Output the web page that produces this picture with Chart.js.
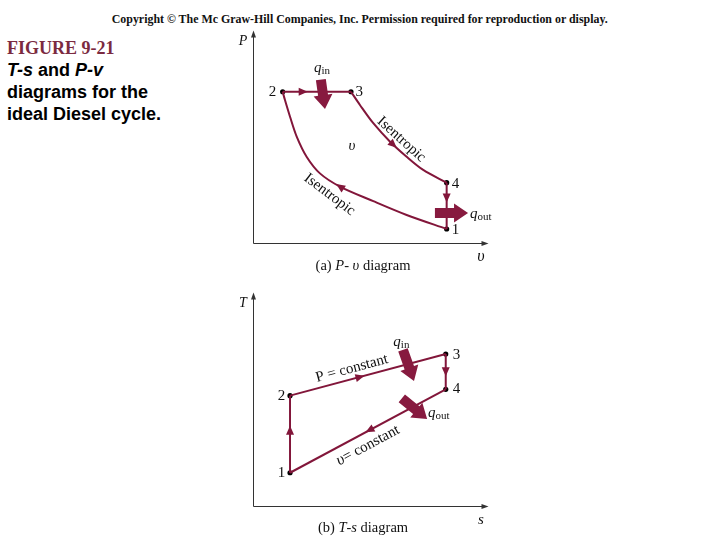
<!DOCTYPE html>
<html>
<head>
<meta charset="utf-8">
<script src="https://cdn.jsdelivr.net/npm/chart.js@4.4.1/dist/chart.umd.min.js"></script>
<style>
  body { margin: 0; width: 720px; height: 540px; background: #fff; position: relative; overflow: hidden; }
  #copy { position: absolute; top: 9px; left: 0; width: 720px; text-align: center; }
  #copy span { display: inline-block; font: bold 13px "Liberation Serif", serif; color: #111; white-space: nowrap; transform-origin: center; }
  #caption { position: absolute; left: 7px; top: 37px; font: bold 18px/22px "Liberation Sans", Arial, sans-serif; color: #000; }
  #caption .fig { font-family: "Liberation Serif", serif; color: #7b2a40; }
  canvas { position: absolute; }
  #pv { left: 230px; top: 28px; }
  #ts { left: 230px; top: 290px; }
</style>
</head>
<body>
<div id="copy"><span id="copyText">Copyright © The Mc Graw-Hill Companies, Inc. Permission required for reproduction or display.</span></div>
<div id="caption">
  <div class="fig">FIGURE 9-21</div>
  <div><i>T-s</i> and <i>P-v</i></div>
  <div>diagrams for the</div>
  <div>ideal Diesel cycle.</div>
</div>
<canvas id="pv" width="270" height="262"></canvas>
<canvas id="ts" width="270" height="250"></canvas>
<script>
// squeeze the copyright line to the width it has in the picture
const copyText = document.getElementById("copyText");
copyText.style.transform = "scaleX(" + (496 / copyText.getBoundingClientRect().width) + ")";

// P-v diagram, arbitrary units (states 1..4)
const pvV = [8.42, 1.29, 4.26, 8.42];
const pvP = [0.69, 7.45, 7.45, 2.97];
// isentropic compression 1 -> 2
const compV = [8.42, 6.68, 5.23, 3.78, 2.91, 2.33, 1.90, 1.61, 1.39, 1.29];
const compP = [0.69, 1.38, 2.06, 2.78, 3.43, 4.25, 5.24, 6.22, 7.04, 7.45];
// isentropic expansion 3 -> 4
const expV = [4.26, 4.65, 5.23, 5.96, 6.68, 7.40, 8.42];
const expP = [7.45, 6.80, 5.90, 4.99, 4.25, 3.60, 2.97];

// T-s diagram (states 1..4)
const tsS = [1.61, 1.61, 8.38, 8.38];
const tsT = [1.63, 5.41, 7.45, 5.72];

const LINE = "#82163a";
const HEAT = "#871a3f";
const SERIF = '"Liberation Serif", "Times New Roman", serif';
const f = (size, style) => (style || "") + " " + size + "px " + SERIF;

const pts = (xs, ys) => xs.map((x, i) => ({ x: x, y: ys[i] }));
const pick = (xs, ys, idx) => idx.map(i => ({ x: xs[i], y: ys[i] }));

function leg(data, arrowAt, tension) {
  return {
    data: data,
    showLine: true,
    borderColor: LINE,
    borderWidth: 2,
    pointRadius: 0,
    tension: tension || 0,
    arrowAt: arrowAt
  };
}
function states(data) {
  return {
    data: data,
    showLine: false,
    pointRadius: 2.6,
    pointBackgroundColor: "#000",
    pointBorderWidth: 0
  };
}

// text helper, mixed fonts on one line
function drawRich(ctx, parts, x, y, align, rot) {
  ctx.save();
  ctx.translate(x, y);
  if (rot) ctx.rotate(rot * Math.PI / 180);
  let w = 0;
  parts.forEach(p => { ctx.font = p[1]; w += ctx.measureText(p[0]).width; });
  let cx = align === "left" ? 0 : -w / 2;
  ctx.textAlign = "left";
  ctx.textBaseline = "middle";
  ctx.fillStyle = "#111";
  parts.forEach(p => {
    ctx.font = p[1];
    ctx.fillText(p[0], cx, p[2] || 0);
    cx += ctx.measureText(p[0]).width;
  });
  ctx.restore();
}

function triangle(ctx, x, y, ang, len, half) {
  ctx.save();
  ctx.translate(x, y);
  ctx.rotate(ang);
  ctx.beginPath();
  ctx.moveTo(len / 2, 0);
  ctx.lineTo(-len / 2, -half);
  ctx.lineTo(-len / 2, half);
  ctx.closePath();
  ctx.fill();
  ctx.restore();
}

function heatArrow(ctx, x1, y1, x2, y2) {
  const ang = Math.atan2(y2 - y1, x2 - x1);
  const len = Math.hypot(x2 - x1, y2 - y1);
  const head = 14, hw = 9.5, sw = 5;
  ctx.save();
  ctx.translate(x1, y1);
  ctx.rotate(ang);
  ctx.fillStyle = HEAT;
  ctx.beginPath();
  ctx.moveTo(0, -sw);
  ctx.lineTo(len - head, -sw);
  ctx.lineTo(len - head, -hw);
  ctx.lineTo(len, 0);
  ctx.lineTo(len - head, hw);
  ctx.lineTo(len - head, sw);
  ctx.lineTo(0, sw);
  ctx.closePath();
  ctx.fill();
  ctx.restore();
}

const diagramPlugin = {
  id: "diagram",
  afterDatasetsDraw(chart, args, opts) {
    const ctx = chart.ctx;
    const a = chart.chartArea;
    const xs = chart.scales.x, ys = chart.scales.y;

    // axes with arrow heads
    ctx.save();
    ctx.strokeStyle = "#333";
    ctx.fillStyle = "#333";
    ctx.lineWidth = 1;
    ctx.beginPath();
    ctx.moveTo(a.left + 0.5, a.bottom + 0.5);
    ctx.lineTo(a.left + 0.5, a.top - 4);
    ctx.moveTo(a.left + 0.5, a.bottom + 0.5);
    ctx.lineTo(a.right, a.bottom + 0.5);
    ctx.stroke();
    triangle(ctx, a.left + 0.5, a.top - 6, -Math.PI / 2, 7, 2.5);
    triangle(ctx, a.right + 2, a.bottom + 0.5, 0, 7, 2.5);
    ctx.restore();

    // direction arrows on the cycle legs
    ctx.save();
    ctx.fillStyle = LINE;
    chart.data.datasets.forEach((ds, i) => {
      if (!ds.arrowAt) return;
      const el = chart.getDatasetMeta(i).data;
      const p0 = el[ds.arrowAt.seg], p1 = el[ds.arrowAt.seg + 1];
      const t = ds.arrowAt.t;
      const x = p0.x + (p1.x - p0.x) * t, y = p0.y + (p1.y - p0.y) * t;
      triangle(ctx, x, y, Math.atan2(p1.y - p0.y, p1.x - p0.x), 9, 4);
    });
    ctx.restore();

    // heat transfer arrows
    opts.heat.forEach(h => {
      heatArrow(ctx, xs.getPixelForValue(h.from[0]), ys.getPixelForValue(h.from[1]),
        xs.getPixelForValue(h.to[0]), ys.getPixelForValue(h.to[1]));
    });

    // labels placed in data units
    opts.labels.forEach(l => {
      drawRich(ctx, l.parts, xs.getPixelForValue(l.at[0]), ys.getPixelForValue(l.at[1]), l.align, l.rot);
    });

    // axis names and caption
    drawRich(ctx, opts.yName, a.left - 10, a.top + 1);
    drawRich(ctx, opts.xName, a.right - 2, a.bottom + 14);
    drawRich(ctx, opts.caption, a.left + 110, a.bottom + opts.captionGap);
  }
};

function makeChart(id, datasets, padding, deco) {
  return new Chart(document.getElementById(id), {
    type: "scatter",
    data: { datasets: datasets },
    options: {
      responsive: false,
      animation: false,
      events: [],
      layout: { padding: padding },
      plugins: { legend: { display: false }, tooltip: { enabled: false }, diagram: deco },
      scales: {
        x: { type: "linear", min: 0, max: 10, display: false },
        y: { type: "linear", min: 0, max: 10, display: false }
      }
    },
    plugins: [diagramPlugin]
  });
}

const num = s => [[s, f(15)]];
const q = sub => [["q", f(15, "italic")], [sub, f(11), 3]];

makeChart("pv", [
  leg(pick(pvV, pvP, [1, 2]), { seg: 0, t: 0.3 }),
  leg(pts(expV, expP), { seg: 3, t: 0.2 }, 0.3),
  leg(pick(pvV, pvP, [3, 0]), { seg: 0, t: 0.33 }),
  leg(pts(compV, compP), { seg: 3, t: 0 }, 0.3),
  states(pts(pvV, pvP))
], { left: 23, right: 17, top: 12, bottom: 47 }, {
  heat: [
    { from: [2.95, 8.05], to: [3.13, 6.6] },
    { from: [7.91, 1.48], to: [9.35, 1.48] }
  ],
  labels: [
    { at: [8.8, 0.64], parts: num("1") },
    { at: [0.85, 7.44], parts: num("2") },
    { at: [4.62, 7.44], parts: num("3") },
    { at: [8.8, 2.91], parts: num("4") },
    { at: [3.0, 8.62], parts: q("in") },
    { at: [9.43, 1.43], parts: q("out"), align: "left" },
    { at: [4.30, 4.78], parts: [["υ", f(15, "italic")]] },
    { at: [6.45, 5.1], parts: [["Isentropic", f(15)]], rot: 42 },
    { at: [3.33, 2.38], parts: [["Isentropic", f(15)]], rot: 37 }
  ],
  yName: [["P", f(14, "italic")]],
  xName: [["υ", f(16, "italic")]],
  caption: [["(a) ", f(14.5)], ["P", f(14.5, "italic")], ["- ", f(14.5)], ["υ", f(14.5, "italic")], [" diagram", f(14.5)]],
  captionGap: 23
});

makeChart("ts", [
  leg(pick(tsS, tsT, [0, 1]), { seg: 0, t: 0.55 }),
  leg(pick(tsS, tsT, [1, 2]), { seg: 0, t: 0.45 }),
  leg(pick(tsS, tsT, [2, 3]), { seg: 0, t: 0.5 }),
  leg(pick(tsS, tsT, [3, 0]), { seg: 0, t: 0.49 }),
  states(pts(tsS, tsT))
], { left: 23, right: 17, top: 12, bottom: 34 }, {
  heat: [
    { from: [6.52, 7.65], to: [7.0, 6.13] },
    { from: [6.47, 5.28], to: [7.57, 4.26] }
  ],
  labels: [
    { at: [1.24, 1.62], parts: num("1") },
    { at: [1.24, 5.39], parts: num("2") },
    { at: [8.85, 7.40], parts: num("3") },
    { at: [8.85, 5.74], parts: num("4") },
    { at: [6.45, 8.02], parts: q("in") },
    { at: [7.61, 4.56], parts: q("out"), align: "left" },
    { at: [4.30, 6.74], parts: [["P = constant", f(15)]], rot: -15 },
    { at: [5.0, 2.97], parts: [["υ", f(16, "italic")], ["= constant", f(15)]], rot: -28 }
  ],
  yName: [["T", f(14, "italic")]],
  xName: [["s", f(15, "italic")]],
  caption: [["(b) ", f(14.5)], ["T", f(14.5, "italic")], ["-", f(14.5)], ["s", f(14.5, "italic")], [" diagram", f(14.5)]],
  captionGap: 22
});
</script>
</body>
</html>
